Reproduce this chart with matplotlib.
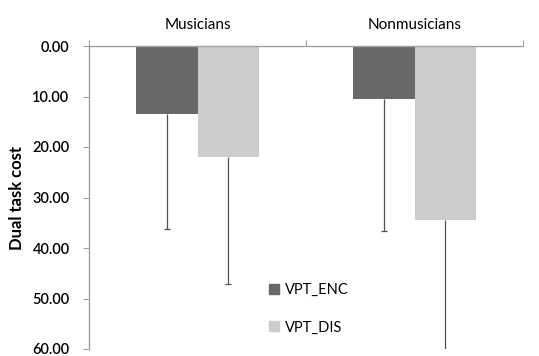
import numpy as np
import matplotlib.pyplot as plt
from matplotlib.patches import Patch

# data
groups = ['Musicians', 'Nonmusicians']
enc_mean = np.array([13.5, 10.5])
dis_mean = np.array([21.9, 34.5])
enc_err = np.array([22.7, 26.2])
dis_err = np.array([25.2, 31.0])
yticks = [0, 10, 20, 30, 40, 50, 60]

plt.rcParams['font.family'] = ['Lato', 'DejaVu Sans']

fig = plt.figure(figsize=(5.39, 3.56), dpi=100)
ax = fig.add_axes([89/539, 1-349/356, (523-89)/539, (349-46)/356])

x = np.arange(len(groups))
w = 0.2857
enc_col = '#696969'
dis_col = '#cccccc'

ax.bar(x - w/2, enc_mean, w, color=enc_col, zorder=2)
ax.bar(x + w/2, dis_mean, w, color=dis_col, zorder=2)

# one-sided error bars (downward on the inverted axis), cap only at the end
for xs, m, e in [(x - w/2, enc_mean, enc_err), (x + w/2, dis_mean, dis_err)]:
    eb = ax.errorbar(xs, m, yerr=[np.zeros_like(e), e], fmt='none',
                     ecolor='#505050', elinewidth=0.9, capsize=2.2,
                     capthick=0.9, zorder=3)
    eb[1][0].set_visible(False)

ax.set_xlim(-0.5, 1.5)
ax.set_ylim(60, 0)
ax.set_yticks(yticks)
ax.set_yticklabels([f'{v:.2f}' for v in yticks], fontsize=10.5, fontweight='semibold')
ax.set_ylabel('Dual task cost', fontsize=12, fontweight='bold', labelpad=5)

# category axis sits on top
ax.xaxis.set_ticks_position('top')
ax.set_xticks([-0.5, 0.5, 1.5])
ax.set_xticklabels([])
ax.set_xticks(x, minor=True)
ax.set_xticklabels(groups, minor=True, fontsize=11)
ax.tick_params(axis='x', which='major', direction='out', length=4, color='#a0a0a0')
ax.tick_params(axis='x', which='minor', length=0, pad=10)
ax.tick_params(axis='y', direction='out', length=4, color='#a0a0a0', pad=10)

for s in ['right', 'bottom']:
    ax.spines[s].set_visible(False)
for s in ['left', 'top']:
    ax.spines[s].set_color('#a0a0a0')
    ax.spines[s].set_linewidth(1.0)

handles = [Patch(color=enc_col, label='VPT_ENC'), Patch(color=dis_col, label='VPT_DIS')]
fig.legend(handles=handles, loc='upper left', bbox_to_anchor=(256/539, 1-270/356),
           frameon=False, fontsize=10.5, handlelength=0.7, handleheight=0.7,
           handletextpad=0.4, labelspacing=1.6)

fig.savefig('out.png', dpi=100)
